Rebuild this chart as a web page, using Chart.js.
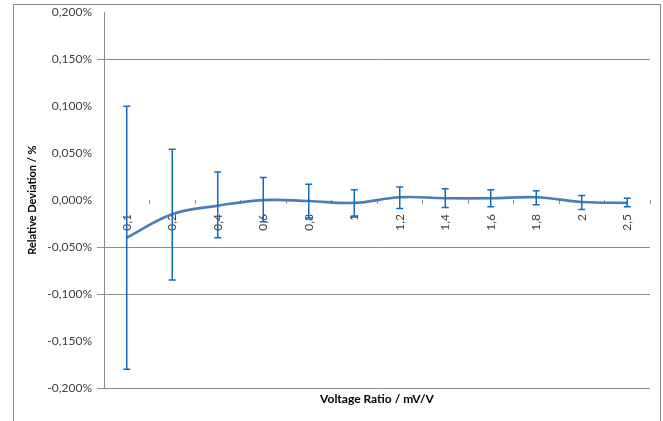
<!DOCTYPE html>
<html lang="en">
<head>
<meta charset="UTF-8">
<title>Relative Deviation vs Voltage Ratio</title>
<style>
    body {
        margin: 0;
        background: #fff;
    }
    canvas {
        display: block;
    }
</style>
</head>
<body>
<canvas id="devChart" width="663" height="421"></canvas>

<script src="https://cdn.jsdelivr.net/npm/chart.js"></script>
<script>
    // voltage ratio categories (mV/V), as printed on the axis
    const ratios = ['0,1', '0,2', '0,4', '0,6', '0,8', '1', '1,2', '1,4', '1,6', '1,8', '2', '2,5'];
    // relative deviation in %
    const deviation = [-0.040, -0.015, -0.006, 0.000, -0.001, -0.003, 0.003, 0.002, 0.002, 0.003, -0.002, -0.003];
    // error bar ends in %
    const errUpper = [0.100, 0.054, 0.030, 0.024, 0.017, 0.011, 0.014, 0.012, 0.011, 0.010, 0.005, 0.002];
    const errLower = [-0.180, -0.085, -0.040, -0.023, -0.019, -0.017, -0.009, -0.008, -0.007, -0.005, -0.010, -0.007];
    // y ticks with a visible grid line in the picture
    const gridRows = [0.15, -0.05, -0.1, -0.2];

    const axisGray = '#8c8c8c';
    const labelFont = { family: 'Lato', size: 12 };

    const errorBars = {
        id: 'errorBars',
        afterDatasetsDraw(chart) {
            const { ctx, scales: { x, y } } = chart;
            ctx.save();
            ctx.strokeStyle = '#0f6cc0';
            ctx.lineWidth = 1.5;
            errUpper.forEach((hi, i) => {
                const px = x.getPixelForValue(i);
                const top = y.getPixelForValue(hi);
                const bot = y.getPixelForValue(errLower[i]);
                ctx.beginPath();
                ctx.moveTo(px, top); ctx.lineTo(px, bot);
                ctx.moveTo(px - 3.5, top); ctx.lineTo(px + 3.5, top);
                ctx.moveTo(px - 3.5, bot); ctx.lineTo(px + 3.5, bot);
                ctx.stroke();
            });
            ctx.restore();
        }
    };

    const frame = {
        id: 'frame',
        afterDraw(chart) {
            const ctx = chart.ctx;
            ctx.save();
            ctx.strokeStyle = axisGray;
            ctx.lineWidth = 1;
            ctx.strokeRect(13.5, 4.5, 647, 440);
            ctx.restore();
        }
    };

    const ctx = document.getElementById('devChart').getContext('2d');
    const devChart = new Chart(ctx, {
        type: 'line',
        data: {
            labels: ratios,
            datasets: [{
                label: 'Relative Deviation',
                data: deviation,
                borderColor: '#4a7ebb',
                borderWidth: 2.6,
                pointRadius: 0,
                tension: 0.4,
                fill: false
            }]
        },
        options: {
            responsive: false,
            animation: false,
            layout: {
                padding: { left: 22, right: 13, top: 9, bottom: 11 }
            },
            plugins: {
                legend: { display: false },
                tooltip: { enabled: false }
            },
            scales: {
                x: {
                    type: 'category',
                    position: { y: 0 },
                    offset: true,
                    grid: {
                        drawOnChartArea: false,
                        offset: true,
                        tickLength: 4,
                        color: axisGray
                    },
                    border: { display: false },
                    ticks: {
                        minRotation: 90,
                        maxRotation: 90,
                        padding: 10,
                        color: '#404040',
                        font: labelFont
                    }
                },
                x2: {
                    type: 'category',
                    position: 'bottom',
                    labels: ratios,
                    afterFit: (s) => { s.height = 22; },
                    grid: { display: false, drawTicks: false },
                    border: { display: false },
                    ticks: { display: false },
                    title: {
                        display: true,
                        text: 'Voltage Ratio / mV/V',
                        color: '#000',
                        padding: { top: 0, bottom: 4 },
                        font: { family: 'Lato', size: 12, weight: 'bold' }
                    }
                },
                y: {
                    min: -0.2,
                    max: 0.2,
                    afterFit: (s) => { s.width = 82; },
                    border: { display: true, color: axisGray },
                    grid: {
                        tickLength: 7,
                        color: (c) => gridRows.some(g => Math.abs(g - c.tick.value) < 1e-9) ? axisGray : 'rgba(0,0,0,0)'
                    },
                    ticks: {
                        stepSize: 0.05,
                        padding: 5,
                        color: '#404040',
                        font: labelFont,
                        callback: (v) => v.toFixed(3).replace('.', ',') + '%'
                    },
                    title: {
                        display: true,
                        text: 'Relative Deviation / %',
                        color: '#000',
                        font: { family: 'Lato', size: 11, weight: 'bold' }
                    }
                }
            }
        },
        plugins: [errorBars, frame]
    });
</script>
</body>
</html>
